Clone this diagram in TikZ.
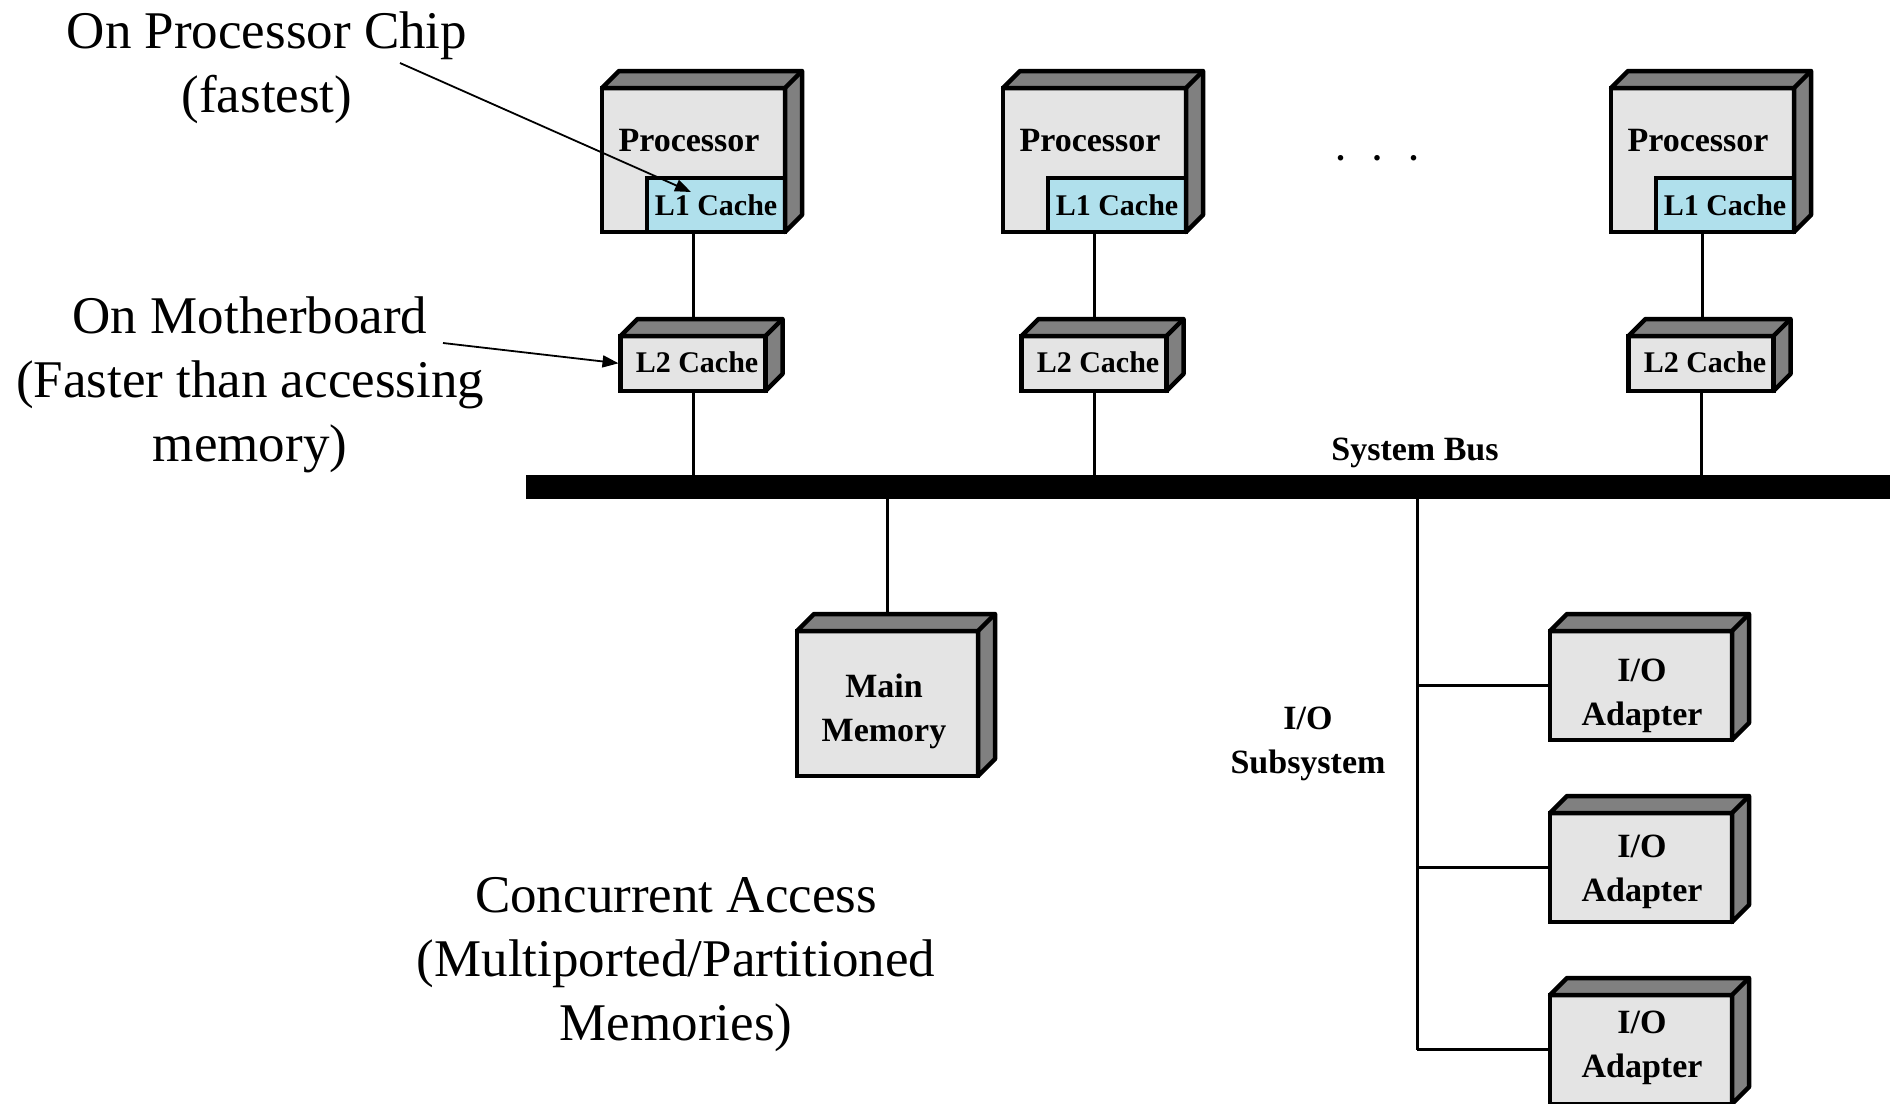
\documentclass[tikz,border=0pt]{standalone}
\usepackage{fontspec}
\setmainfont{Liberation Serif}
\usetikzlibrary{arrows.meta,backgrounds}
\definecolor{facegray}{RGB}{228,228,228}
\definecolor{sidegray}{RGB}{128,128,128}
\definecolor{cacheblue}{RGB}{176,224,236}
\tikzset{
  box/.style={draw=black, fill=facegray, line width=4.5pt, inner sep=0pt, outer sep=0pt,
    rectangle, align=center, font=\bfseries\fontsize{34}{42}\selectfont},
  procbox/.style={box, minimum width=183pt, minimum height=144pt},
  l1box/.style={box, fill=cacheblue, minimum width=138pt, minimum height=54pt,
    font=\bfseries\fontsize{30}{36}\selectfont},
  l2box/.style={box, minimum width=145pt, minimum height=55pt},
  membox/.style={box, minimum width=181pt, minimum height=145pt},
  iobox/.style={box, minimum width=182pt, minimum height=109pt},
  busbar/.style={rectangle, fill=black, inner sep=0pt, outer sep=0pt, minimum width=1364pt, minimum height=24pt},
  depthface/.style={fill=sidegray, draw=black, line width=4.5pt, line join=round},
  wire/.style={line width=3pt},
  note/.style={align=center, inner sep=0pt, font=\fontsize{53}{64}\selectfont},
  lbl/.style={align=center, inner sep=0pt, font=\bfseries\fontsize{34}{44}\selectfont},
  smalllbl/.style={lbl, font=\bfseries\fontsize{30}{36}\selectfont},
  pointer/.style={line width=1.8pt, -{Triangle[length=16pt,width=12pt]}},
}
\newcommand\boxdepth[2]{%
  \filldraw[depthface] (#1.north west) -- ++(#2,-#2) -- ([shift={(#2,-#2)}]#1.north east)
    -- ([shift={(#2,-#2)}]#1.south east) -- (#1.south east) -- (#1.north east) -- cycle;
  \draw[line width=4.5pt] (#1.north east) -- ++(#2,-#2);
}
\begin{document}
\begin{tikzpicture}[x=1pt,y=-1pt]
\useasboundingbox (0,0) rectangle (1902,1103);

% processors
\node[procbox] (p1) at (693.5,160) {};
\node[procbox] (p2) at (1094.5,160) {};
\node[procbox] (p3) at (1702.5,160) {};
\node[l1box, anchor=south east] (l1a) at (p1.south east) {L1 Cache};
\node[l1box, anchor=south east] (l1b) at (p2.south east) {L1 Cache};
\node[l1box, anchor=south east] (l1c) at (p3.south east) {L1 Cache};
\boxdepth{p1}{17}\boxdepth{p2}{17}\boxdepth{p3}{17}
\node[lbl] (p1t) at (689,141) {Processor};
\node[lbl] (p2t) at (1090,141) {Processor};
\node[lbl] (p3t) at (1698,141) {Processor};

\node[lbl] (dots) at (1377,158.5) {.\hspace{28pt}.\hspace{28pt}.};

% L2 caches
\node[l2box] (l2a) at (693,363.5) {};
\node[l2box] (l2b) at (1094,363.5) {};
\node[l2box] (l2c) at (1701,363.5) {};
\boxdepth{l2a}{17}\boxdepth{l2b}{17}\boxdepth{l2c}{17}
\node[smalllbl] (l2at) at (697,362) {L2 Cache};
\node[smalllbl] (l2bt) at (1098,362) {L2 Cache};
\node[smalllbl] (l2ct) at (1705,362) {L2 Cache};

% bus
\node[busbar] (bus) at (1208,487) {};
\node[lbl] (buslbl) at (1415,453) {System Bus};

% memory
\node[membox] (mem) at (887.5,703.5) {};
\boxdepth{mem}{17}
\node[lbl] (memt) at (884,711) {Main\\Memory};

% I/O
\node[iobox] (io1) at (1641,685.5) {};
\node[iobox] (io2) at (1641,867.5) {};
\node[iobox] (io3) at (1641,1049.5) {};
\boxdepth{io1}{17}\boxdepth{io2}{17}\boxdepth{io3}{17}
\node[lbl] (io1t) at (1642,696) {I/O\\Adapter};
\node[lbl] (io2t) at (1642,872) {I/O\\Adapter};
\node[lbl] (io3t) at (1642,1048) {I/O\\Adapter};
\node[lbl] (iosub) at (1308,744) {I/O\\Subsystem};
\coordinate (tap) at (1417,487);

\begin{pgfonlayer}{background}
  \draw[wire] (p1.south) -- (p1.south |- l2a.north);
  \draw[wire] (p2.south) -- (p2.south |- l2b.north);
  \draw[wire] (p3.south) -- (p3.south |- l2c.north);
  \draw[wire] (l2a.south) -- (l2a.south |- bus.center);
  \draw[wire] (l2b.south) -- (l2b.south |- bus.center);
  \draw[wire] (l2c.south) -- (l2c.south |- bus.center);
  \draw[wire] (bus.center -| mem.north) -- (mem.north);
  \draw[wire] (tap) -- (tap |- io3.west);
  \draw[wire] (tap |- io1.west) -- (io1.west);
  \draw[wire] (tap |- io2.west) -- (io2.west);
  \draw[wire] (tap |- io3.west) -- (io3.west);
\end{pgfonlayer}

% annotations
\node[note] (n1) at (267,68) {On Processor Chip\\(fastest)};
\node[note] (n2) at (250,385) {On Motherboard\\(Faster than accessing\\memory)};
\node[note] (n3) at (676,965) {Concurrent Access\\(Multiported/Partitioned\\Memories)};
\coordinate (a1s) at (400,63);
\coordinate (a2s) at (443,343);
\draw[pointer] (a1s) -- ([shift={(44,14)}]l1a.north west);
\draw[pointer, shorten >=2pt] (a2s) -- (l2a.west);
\end{tikzpicture}
\end{document}
